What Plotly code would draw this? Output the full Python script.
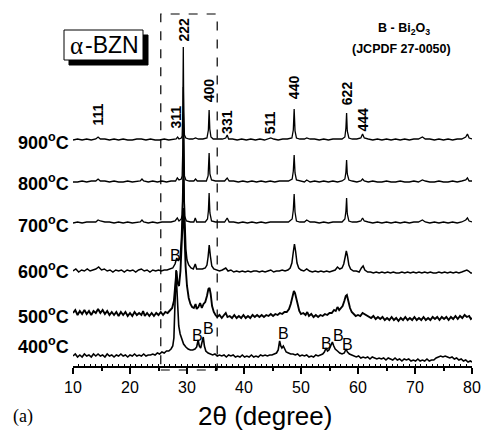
import plotly.graph_objects as go

# ---------------- data (2theta in degrees, intensity in arbitrary units above each pattern's baseline) -------------
temps = ["900", "800", "700", "600", "500", "400"]
offsets = [226, 184, 143, 95, 50, 10]

pattern_900 = [(10,0),(10.8,1),(11.6,0),(12.4,1),(13.2,0),(14.0,1),(14.4,3),(14.8,1),(15.6,1),(16.4,0),(17.2,1),(18.0,0),(18.8,1),(19.6,0),(20.4,0),(21.2,1),(22.0,1),(22.8,0),(23.6,1),(24.4,0),(25.2,0),(26.0,1),(26.8,0),(27.6,1),(28.1,1),(28.35,3),(28.6,1),(29.0,2),(29.15,4),(29.27,30),(29.35,93),(29.43,28),(29.55,5),(29.8,2),(30.4,1),(31.0,1),(31.5,2),(32.0,1),(32.8,1),(33.5,2),(33.75,10),(33.88,30),(34.0,11),(34.2,3),(34.6,1),(35.4,1),(36.2,1),(36.8,2),(37.05,5),(37.3,1),(38.0,1),(38.8,0),(39.6,1),(40.4,0),(41.2,1),(42.0,0),(42.8,1),(43.6,0),(44.4,1),(44.7,2),(45.2,1),(46.0,0),(46.8,1),(47.6,1),(48.4,2),(48.65,10),(48.8,31),(48.95,9),(49.2,2),(49.8,1),(50.6,1),(51.0,2),(51.6,1),(52.4,1),(53.2,0),(54.0,1),(54.8,0),(55.6,1),(56.4,1),(57.2,1),(57.7,3),(57.88,12),(58.0,27),(58.12,9),(58.4,2),(59.0,1),(59.8,1),(60.5,2),(60.8,6),(61.1,2),(61.8,1),(62.6,0),(63.4,1),(64.2,0),(65.0,1),(65.8,0),(66.6,1),(67.4,0),(68.2,1),(69.0,0),(69.8,1),(70.6,1),(71.3,3),(71.8,1),(72.6,1),(73.4,0),(74.2,1),(75.0,0),(75.8,1),(76.6,0),(77.4,1),(78.2,1),(78.9,3),(79.2,6),(79.5,2),(80.0,1)]

pattern_800 = [(10,0),(10.8,0),(11.6,1),(12.4,0),(13.2,1),(14.0,1),(14.4,3),(14.8,1),(15.6,1),(16.4,0),(17.2,1),(18.0,0),(18.8,0),(19.6,1),(20.4,0),(21.2,1),(21.8,1),(22.1,3),(22.4,1),(23.2,0),(24.0,1),(24.8,0),(25.6,1),(26.4,0),(27.2,1),(28.0,1),(28.3,4),(28.6,2),(29.0,3),(29.15,6),(29.27,35),(29.35,95),(29.43,32),(29.55,6),(29.8,2),(30.4,1),(31.2,1),(31.5,3),(31.8,1),(32.6,1),(33.4,1),(33.7,6),(33.88,29),(34.02,8),(34.3,2),(35.0,1),(35.8,1),(36.6,1),(37.05,4),(37.4,1),(38.2,1),(39.0,0),(39.8,1),(40.6,0),(41.4,1),(42.2,0),(43.0,1),(43.8,0),(44.6,1),(45.4,0),(46.2,1),(47.0,1),(47.8,1),(48.45,3),(48.65,11),(48.8,27),(48.95,9),(49.2,2),(49.8,1),(50.6,0),(51.0,2),(51.6,0),(52.4,1),(53.2,0),(54.0,1),(54.8,0),(55.6,1),(56.4,0),(57.2,1),(57.7,3),(57.88,10),(58.0,22),(58.12,8),(58.4,2),(59.0,1),(59.8,0),(60.5,1),(60.8,3),(61.1,1),(61.8,0),(62.6,1),(63.4,0),(64.2,0),(65.0,1),(65.8,0),(66.6,0),(67.4,1),(68.2,0),(69.0,0),(69.8,1),(70.6,0),(71.3,2),(71.8,1),(72.6,0),(73.4,0),(74.2,1),(75.0,0),(75.8,0),(76.6,1),(77.4,0),(78.2,1),(78.9,2),(79.2,4),(79.5,1),(80.0,1)]

pattern_700 = [(10,0),(10.8,1),(11.6,0),(12.4,1),(13.2,1),(14.0,1),(14.4,3),(14.8,2),(15.6,1),(16.4,1),(17.2,0),(18.0,1),(18.8,0),(19.6,1),(20.4,0),(21.2,1),(21.8,1),(22.1,3),(22.4,1),(23.2,0),(24.0,1),(24.8,0),(25.6,1),(26.4,1),(27.2,1),(27.9,2),(28.3,5),(28.6,2),(29.0,4),(29.15,8),(29.27,40),(29.35,100),(29.43,36),(29.57,7),(29.9,2),(30.6,1),(31.2,1),(31.45,5),(31.7,1),(32.4,1),(33.2,1),(33.6,4),(33.75,12),(33.88,30),(34.02,10),(34.3,2),(35.0,1),(35.8,1),(36.6,1),(37.05,5),(37.4,1),(38.2,1),(39.0,0),(39.8,1),(40.6,0),(41.4,1),(42.2,0),(43.0,1),(43.8,0),(44.6,1),(45.4,1),(46.2,1),(47.0,1),(47.8,1),(48.45,4),(48.65,13),(48.8,29),(48.95,11),(49.2,2),(49.8,1),(50.6,1),(51.0,3),(51.6,1),(52.4,1),(53.2,0),(54.0,1),(54.8,0),(55.6,1),(56.4,1),(57.2,1),(57.7,4),(57.88,12),(58.0,25),(58.12,9),(58.4,2),(59.0,1),(59.8,1),(60.5,2),(60.8,5),(61.1,2),(61.8,1),(62.6,0),(63.4,1),(64.2,0),(65.0,1),(65.8,0),(66.6,1),(67.4,0),(68.2,1),(69.0,0),(69.8,1),(70.6,1),(71.3,3),(71.8,1),(72.6,0),(73.4,1),(74.2,0),(75.0,1),(75.8,0),(76.6,1),(77.4,0),(78.2,1),(78.9,3),(79.2,5),(79.5,2),(80.0,1)]

pattern_600 = [(10,0),(10.5,2),(11.0,-1),(11.5,1),(12.0,0),(12.5,2),(13.0,0),(13.5,1),(14.0,2),(14.5,4),(15.0,1),(15.5,2),(16.0,0),(16.5,1),(17.0,-1),(17.5,1),(18.0,0),(18.5,1),(19.0,-1),(19.5,1),(20.0,0),(20.5,1),(21.0,-1),(21.5,1),(22.0,2),(22.5,0),(23.0,1),(23.5,-1),(24.0,1),(24.5,0),(25.0,1),(25.5,0),(26.0,1),(26.5,1),(27.0,2),(27.5,3),(27.9,7),(28.2,13),(28.5,10),(28.8,14),(29.0,30),(29.2,70),(29.4,92),(29.6,55),(29.8,22),(30.0,11),(30.3,6),(30.7,3),(31.1,2),(31.45,7),(31.7,2),(32.2,2),(32.7,2),(33.2,3),(33.5,6),(33.7,14),(33.9,26),(34.1,15),(34.35,5),(34.7,2),(35.2,1),(35.7,0),(36.2,1),(36.8,3),(37.2,0),(37.7,1),(38.2,-1),(38.7,0),(39.2,-1),(39.7,0),(40.2,-1),(40.7,0),(41.2,-1),(41.7,0),(42.2,0),(42.7,-1),(43.2,0),(43.7,-1),(44.2,0),(44.7,1),(45.2,-1),(45.7,0),(46.2,0),(46.7,1),(47.2,0),(47.7,1),(48.1,3),(48.4,8),(48.65,19),(48.85,27),(49.05,20),(49.3,8),(49.6,3),(50.0,1),(50.5,0),(51.0,2),(51.5,0),(52.0,-1),(52.5,0),(53.0,-1),(53.5,0),(54.0,-1),(54.5,0),(55.0,-1),(55.5,0),(56.0,1),(56.4,4),(56.8,2),(57.2,3),(57.5,7),(57.75,14),(57.95,20),(58.15,15),(58.4,6),(58.7,2),(59.2,0),(59.7,0),(60.2,-1),(60.6,3),(60.9,5),(61.2,1),(61.7,-1),(62.2,-1),(62.7,-2),(63.2,-1),(63.7,-2),(64.2,-1),(64.7,-2),(65.2,-1),(65.7,-2),(66.2,-1),(66.7,-2),(67.2,-2),(67.7,-1),(68.2,-2),(68.7,-1),(69.2,-2),(69.7,-1),(70.2,-2),(70.7,-1),(71.2,-2),(71.7,-1),(72.2,-2),(72.7,-1),(73.2,-2),(73.7,-2),(74.2,-1),(74.7,-2),(75.2,-1),(75.7,-2),(76.2,-1),(76.7,-2),(77.2,-1),(77.7,-2),(78.2,-1),(78.7,0),(79.1,1),(79.4,0),(79.8,-2),(80,-2)]

pattern_500 = [(10.0,3),(10.4,6),(10.8,1),(11.2,5),(11.6,2),(12.0,6),(12.4,2),(12.8,5),(13.2,1),(13.6,5),(14.0,3),(14.4,7),(14.8,3),(15.2,6),(15.6,2),(16.0,5),(16.4,1),(16.8,4),(17.2,1),(17.6,4),(18.0,0),(18.4,4),(18.8,1),(19.2,4),(19.6,0),(20.0,3),(20.4,0),(20.8,4),(21.2,1),(21.6,3),(22.0,1),(22.3,5),(22.6,0),(23.0,3),(23.4,0),(23.8,3),(24.2,0),(24.6,3),(25.0,1),(25.4,4),(25.8,1),(26.2,4),(26.6,3),(27.0,6),(27.4,8),(27.7,15),(27.95,35),(28.15,45),(28.35,33),(28.6,30),(28.85,45),(29.1,80),(29.35,108),(29.55,85),(29.75,50),(30.0,30),(30.3,18),(30.6,12),(30.9,9),(31.2,8),(31.5,12),(31.7,7),(32.0,9),(32.3,13),(32.6,8),(32.9,12),(33.2,14),(33.5,20),(33.75,27),(33.95,28),(34.15,22),(34.4,10),(34.7,4),(35.0,1),(35.3,-1),(35.7,1),(36.1,-2),(36.5,1),(36.8,3),(37.1,-1),(37.5,0),(37.9,-2),(38.3,1),(38.7,-2),(39.1,0),(39.5,-2),(39.9,1),(40.3,-2),(40.7,0),(41.1,-2),(41.5,1),(41.9,-1),(42.3,1),(42.7,-1),(43.1,1),(43.5,-1),(43.9,1),(44.3,0),(44.7,2),(45.1,0),(45.5,2),(45.9,1),(46.3,3),(46.7,2),(47.1,4),(47.5,4),(47.9,7),(48.2,12),(48.5,19),(48.75,25),(48.95,23),(49.2,16),(49.45,9),(49.7,5),(50.0,2),(50.4,3),(50.8,1),(51.1,4),(51.4,0),(51.8,2),(52.2,-1),(52.6,1),(53.0,-1),(53.4,1),(53.8,0),(54.2,2),(54.6,1),(55.0,3),(55.4,3),(55.8,6),(56.1,5),(56.4,9),(56.7,6),(57.0,8),(57.3,10),(57.6,15),(57.85,20),(58.05,21),(58.3,15),(58.6,8),(58.9,4),(59.2,2),(59.6,0),(60.0,1),(60.4,0),(60.8,3),(61.1,2),(61.5,0),(61.9,-1),(62.3,-2),(62.7,0),(63.1,-3),(63.5,-1),(63.9,-3),(64.3,-1),(64.7,-4),(65.1,-2),(65.5,-4),(65.9,-1),(66.3,-4),(66.7,-2),(67.1,-5),(67.5,-2),(67.9,-4),(68.3,-1),(68.7,-4),(69.1,-2),(69.5,-4),(69.9,-1),(70.3,-4),(70.7,-2),(71.1,-4),(71.5,-1),(71.9,-4),(72.3,-2),(72.7,-4),(73.1,-1),(73.5,-3),(73.9,-1),(74.3,-4),(74.7,-1),(75.1,-3),(75.5,-1),(75.9,-4),(76.3,-1),(76.7,-3),(77.1,0),(77.5,-3),(77.9,0),(78.3,-2),(78.7,1),(79.1,-1),(79.5,0),(79.8,-3),(80.0,-2)]

pattern_400 = [(10.0,0),(10.4,2),(10.8,-1),(11.2,1),(11.6,-1),(12.0,2),(12.4,0),(12.8,1),(13.2,-1),(13.6,2),(14.0,0),(14.4,2),(14.8,0),(15.2,1),(15.6,-1),(16.0,2),(16.4,0),(16.8,1),(17.2,-1),(17.6,1),(18.0,0),(18.4,2),(18.8,0),(19.2,1),(19.6,-1),(20.0,1),(20.4,0),(20.8,2),(21.2,0),(21.6,1),(22.0,0),(22.4,2),(22.8,0),(23.2,1),(23.6,1),(24.0,2),(24.4,1),(24.8,3),(25.2,2),(25.6,4),(26.0,3),(26.4,5),(26.8,5),(27.2,7),(27.5,10),(27.7,18),(27.85,45),(28.0,78),(28.1,86),(28.2,70),(28.35,45),(28.55,30),(28.8,22),(29.1,16),(29.4,12),(29.8,9),(30.2,7),(30.6,6),(31.0,6),(31.4,7),(31.7,9),(31.95,16),(32.15,10),(32.4,8),(32.6,12),(32.85,19),(33.05,10),(33.3,5),(33.7,3),(34.1,2),(34.5,1),(34.9,2),(35.3,0),(35.7,1),(36.1,0),(36.5,1),(36.9,-1),(37.3,1),(37.7,0),(38.1,1),(38.5,-1),(38.9,0),(39.3,-1),(39.7,1),(40.1,-1),(40.5,0),(40.9,-1),(41.3,1),(41.7,-1),(42.1,0),(42.5,-1),(42.9,1),(43.3,0),(43.7,1),(44.1,0),(44.5,1),(44.9,1),(45.3,2),(45.7,3),(46.0,6),(46.25,15),(46.45,10),(46.65,8),(46.9,10),(47.1,7),(47.4,4),(47.8,3),(48.2,2),(48.6,2),(49.0,1),(49.4,2),(49.8,0),(50.2,1),(50.6,0),(51.0,1),(51.4,-1),(51.8,0),(52.2,-1),(52.6,1),(53.0,0),(53.4,1),(53.8,2),(54.1,4),(54.4,8),(54.65,5),(54.9,6),(55.2,10),(55.5,14),(55.75,10),(56.0,7),(56.4,5),(56.8,3),(57.2,2),(57.6,3),(57.9,7),(58.15,4),(58.5,2),(58.9,1),(59.3,0),(59.7,-1),(60.1,0),(60.5,-2),(60.9,-1),(61.3,-2),(61.7,-1),(62.1,-3),(62.5,-1),(62.9,-2),(63.3,-3),(63.7,-2),(64.1,-3),(64.5,-2),(64.9,-4),(65.3,-2),(65.7,-3),(66.1,-4),(66.5,-2),(66.9,-4),(67.3,-3),(67.7,-5),(68.1,-3),(68.5,-4),(68.9,-3),(69.3,-5),(69.7,-4),(70.1,-5),(70.5,-3),(70.9,-5),(71.3,-4),(71.7,-5),(72.1,-3),(72.5,-5),(72.9,-4),(73.3,-4),(73.7,-2),(74.1,-1),(74.5,0),(74.9,-1),(75.3,0),(75.7,-1),(76.1,-2),(76.5,-1),(76.9,-3),(77.3,-2),(77.7,-4),(78.1,-3),(78.5,-5),(78.9,-4),(79.3,-6),(79.7,-5),(80.0,-6)]

patterns = [pattern_900, pattern_800, pattern_700, pattern_600, pattern_500, pattern_400]
line_widths = [1.3, 1.3, 1.3, 1.5, 1.9, 1.6]

hkl_labels = ["111", "311", "222", "400", "331", "511", "440", "622", "444"]
hkl_pos = [(14.3, 115), (28.0, 117), (29.4, 30), (33.9, 90), (37.0, 122), (44.6, 123), (48.8, 87), (58.1, 93), (60.8, 120)]
b_label = "B"
b_pos = [(27.9, 255), (31.9, 335), (33.85, 328), (47.0, 333), (54.55, 343), (56.5, 335), (58.1, 344)]

tick_vals = [10, 20, 30, 40, 50, 60, 70, 80]
x_title = "2θ (degree)"

# ---------------- geometry helpers (pixel -> paper) ----------------
W, H = 481, 431
L, R, T, B = 73, 9, 0, 65
PW, PH = W - L - R, H - T - B


def px(xp):
    return (xp - L) / PW


def py(yp):
    return 1 - (yp - T) / PH


fig = go.Figure()
for t, pat, off, lw in zip(temps, patterns, offsets, line_widths):
    xs = [p[0] for p in pat]
    ys = [p[1] + off for p in pat]
    fig.add_trace(go.Scatter(x=xs, y=ys, mode="lines", line=dict(color="black", width=lw),
                             showlegend=False, hoverinfo="skip", name=t))
# invisible trace to host the fine-tick axis
fig.add_trace(go.Scatter(x=[10, 80], y=[0, 0], xaxis="x2", mode="lines",
                         line=dict(width=0), showlegend=False, hoverinfo="skip"))

FONT = "Arial, Liberation Sans"
ann = []


def note(xp, yp, text, size, family=FONT, xanchor="center"):
    ann.append(dict(x=px(xp), y=py(yp), xref="paper", yref="paper", showarrow=False,
                    xanchor=xanchor, yanchor="middle", text=text,
                    font=dict(family=family, size=size, color="black")))


label_y = [141, 182, 224, 270, 315, 345]
for t, ly in zip(temps, label_y):
    note(71, ly, f"<b>{t}<sup>o</sup>C</b>", 18, xanchor="right")
for lab, (xx, yp) in zip(hkl_labels, hkl_pos):
    ann.append(dict(x=xx, y=py(yp), xref="x", yref="paper", xanchor="center", yanchor="middle",
                    text=f"<b>{lab}</b>", textangle=-90, showarrow=False,
                    font=dict(family=FONT, size=14, color="black")))
for xx, yp in b_pos:
    ann.append(dict(x=xx, y=py(yp), xref="x", yref="paper", xanchor="center", yanchor="middle",
                    text=b_label, showarrow=False,
                    font=dict(family=FONT, size=16, color="black")))

note(404, 29, "<b>B - Bi<sub>2</sub>O<sub>3</sub></b>", 12.5)
note(401, 49, "<b>(JCPDF 27-0050)</b>", 12.5)
# α-BZN label inside its shadowed box
note(76, 45, "α", 25, family="Liberation Serif, Times New Roman")
note(83, 45, "-BZN", 23, xanchor="left")
note(265, 416, x_title, 26)
note(23, 416, "(a)", 18, family="Liberation Serif, Times New Roman")


def rect_path(x0, y0, x1, y1):
    return (f"M {px(x0)},{py(y0)} L {px(x1)},{py(y0)} L {px(x1)},{py(y1)} "
            f"L {px(x0)},{py(y1)} Z")


shapes = [
    # dashed window around the main peaks
    dict(type="rect", xref="x", yref="paper", x0=25.4, x1=35.3, y0=py(370), y1=py(14),
         line=dict(color="black", width=1.2, dash="dash"), fillcolor="rgba(0,0,0,0)", layer="above"),
    # solid black drop shadow behind the α-BZN box
    dict(type="path", xref="paper", yref="paper", path=rect_path(69, 35, 148, 65),
         line=dict(color="black", width=1), fillcolor="black", opacity=1, layer="above"),
    # white box with thin border
    dict(type="path", xref="paper", yref="paper", path=rect_path(64, 30, 143, 60),
         line=dict(color="black", width=1), fillcolor="white", opacity=1, layer="above"),
]

fig.update_layout(
    width=W, height=H, margin=dict(l=L, r=R, t=T, b=B),
    paper_bgcolor="white", plot_bgcolor="white",
    annotations=ann, shapes=shapes,
    xaxis=dict(range=[10, 80], tickvals=tick_vals, ticks="outside", ticklen=6, tickwidth=1.5,
               tickcolor="black", showline=True, linecolor="black", linewidth=2,
               showgrid=False, zeroline=False,
               minor=dict(dtick=5, tick0=5, ticks="outside", ticklen=3, tickwidth=1.5, tickcolor="black"),
               tickfont=dict(family=FONT, size=16, color="black")),
    xaxis2=dict(range=[10, 80], overlaying="x", anchor="y", side="bottom", dtick=1, tick0=10,
                ticks="inside", ticklen=2, tickwidth=1, tickcolor="black", showticklabels=False,
                showline=False, showgrid=False, zeroline=False),
    yaxis=dict(range=[0, PH], visible=False, fixedrange=True),
)

fig.write_html("out.html", config={"displayModeBar": False},
               post_script="document.body.style.margin='0';document.body.style.overflow='hidden';")
